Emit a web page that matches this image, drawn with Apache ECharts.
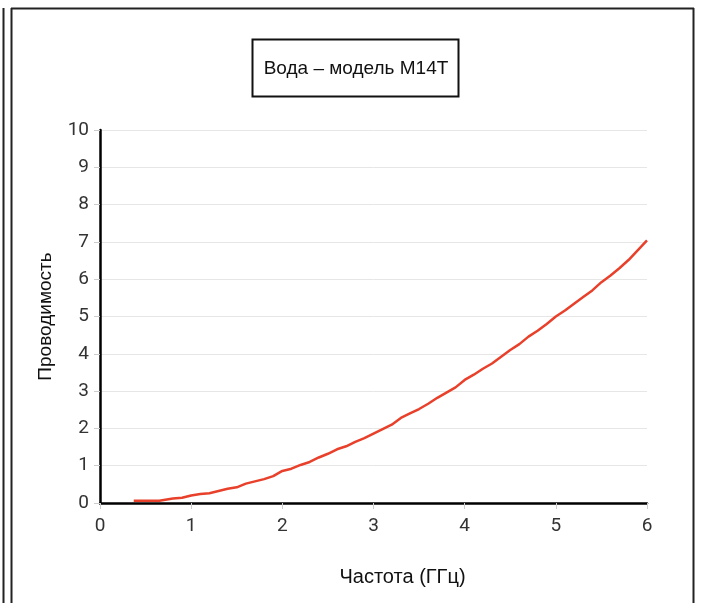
<!DOCTYPE html>
<html>
<head>
<meta charset="utf-8">
<script src="https://cdn.jsdelivr.net/npm/echarts@6/dist/echarts.min.js"></script>
<style>
html,body{margin:0;padding:0;background:#fff;}
#main{width:704px;height:603px;}
</style>
</head>
<body>
<div id="main"></div>
<script>
// частота, ГГц
var freq = [0.37,0.45,0.55,0.65,0.7,0.8,0.9,1.0,1.1,1.2,1.3,1.4,1.5,1.6,1.7,1.8,1.9,
    2.0,2.1,2.2,2.3,2.4,2.5,2.6,2.7,2.8,2.9,3.0,3.1,3.2,3.3,3.4,3.5,3.6,3.7,3.8,3.9,
    4.0,4.1,4.2,4.3,4.4,4.5,4.6,4.7,4.8,4.9,5.0,5.1,5.2,5.3,5.4,5.5,5.6,5.7,5.8,5.9,6.0];
// проводимость
var cond = [0.06,0.06,0.06,0.06,0.08,0.12,0.14,0.2,0.24,0.26,0.32,0.38,0.42,0.52,0.58,0.64,0.72,
    0.86,0.92,1.02,1.1,1.22,1.32,1.44,1.52,1.64,1.74,1.86,1.98,2.1,2.28,2.4,2.52,2.66,2.82,2.96,3.1,
    3.3,3.44,3.6,3.74,3.92,4.1,4.26,4.46,4.62,4.8,5.0,5.16,5.34,5.52,5.7,5.92,6.1,6.3,6.52,6.78,7.04];
var xTicks = [0,1,2,3,4,5,6];
var yTicks = [0,1,2,3,4,5,6,7,8,9,10];

var chart = echarts.init(document.getElementById('main'));

var points = [];
for (var i = 0; i < freq.length; i++) {
    points.push([freq[i], cond[i]]);
}

var labelFont = {fontSize: 19, color: '#333', fontFamily: 'Roboto, Liberation Sans, Arial, sans-serif'};
var nameFont = {fontSize: 19, color: '#111', fontFamily: 'Liberation Sans, Arial, sans-serif'};
var frameStyle = {stroke: '#222', lineWidth: 2};

var option = {
    backgroundColor: '#fff',
    animation: false,
    grid: {left: 100, right: 57, top: 130, bottom: 100},
    graphic: [
        {type: 'line', shape: {x1: 3.5, y1: 8, x2: 3.5, y2: 603}, style: frameStyle},
        {type: 'line', shape: {x1: 11.5, y1: 8, x2: 11.5, y2: 603}, style: frameStyle},
        {type: 'line', shape: {x1: 11, y1: 8.5, x2: 694, y2: 8.5}, style: frameStyle},
        {type: 'line', shape: {x1: 693.5, y1: 8, x2: 693.5, y2: 603}, style: frameStyle},
        {
            type: 'rect',
            shape: {x: 252.5, y: 39.5, width: 206, height: 57},
            style: {fill: '#fff', stroke: '#111', lineWidth: 2}
        },
        {
            type: 'text',
            x: 356, y: 69,
            style: {
                text: 'Вода – модель M14T',
                fill: '#111',
                fontSize: 19,
                fontFamily: 'Liberation Sans, Arial, sans-serif',
                align: 'center',
                verticalAlign: 'middle'
            }
        }
    ],
    xAxis: {
        type: 'value',
        min: xTicks[0],
        max: xTicks[xTicks.length - 1],
        interval: 1,
        name: 'Частота (ГГц)',
        nameLocation: 'middle',
        nameGap: 64,
        nameTextStyle: Object.assign({}, nameFont, {fontSize: 20, padding: [0, 0, 0, 58]}),
        axisLine: {lineStyle: {color: '#000', width: 2.5}},
        axisTick: {show: true, length: 6, lineStyle: {color: '#ccc'}},
        axisLabel: Object.assign({margin: 14}, labelFont),
        splitLine: {show: false}
    },
    yAxis: {
        type: 'value',
        min: yTicks[0],
        max: yTicks[yTicks.length - 1],
        interval: 1,
        name: 'Проводимость',
        nameLocation: 'middle',
        nameGap: 45,
        nameTextStyle: nameFont,
        axisLine: {show: true, lineStyle: {color: '#000', width: 2.5}},
        axisTick: {show: true, length: 6, lineStyle: {color: '#ccc'}},
        axisLabel: Object.assign({margin: 11}, labelFont),
        splitLine: {show: true, lineStyle: {color: '#e6e6e6', width: 1}}
    },
    series: [
        {
            type: 'line',
            data: points,
            showSymbol: false,
            smooth: false,
            lineStyle: {color: '#e8402a', width: 2.5},
            z: 3
        }
    ]
};

chart.setOption(option);
</script>
</body>
</html>
